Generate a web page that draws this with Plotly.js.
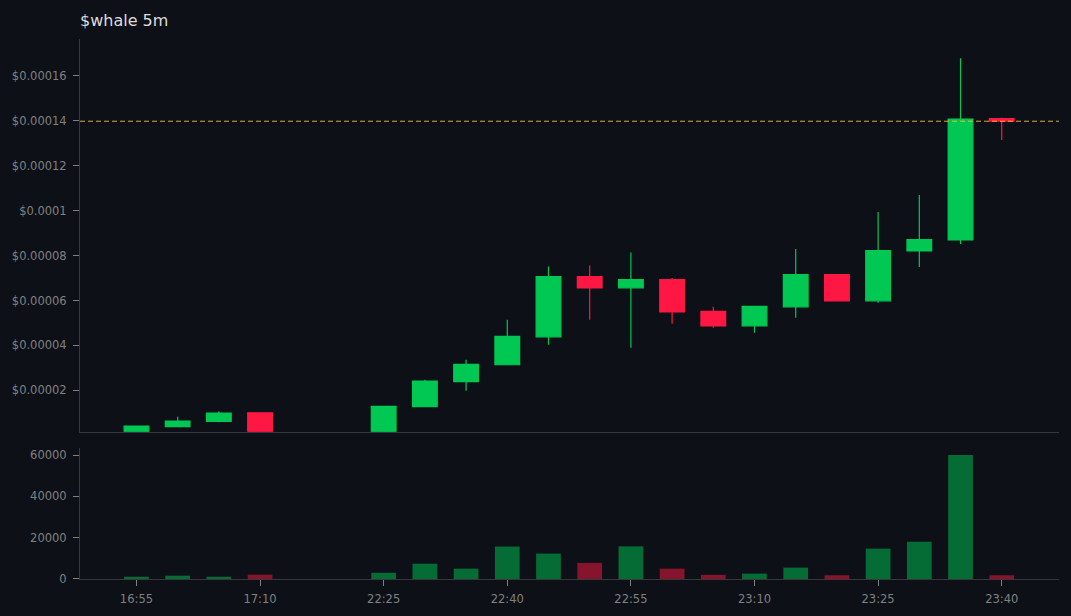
<!DOCTYPE html>
<html>
<head>
<meta charset="utf-8">
<script src="https://cdn.plot.ly/plotly-3.0.1.min.js"></script>
<style>html,body{margin:0;padding:0;background:#0d1117}
.boxes path{stroke-linejoin:miter !important}</style>
</head>
<body>
<div id="chart" style="width:1071px;height:616px"></div>
<script>
const allSlots = ["16:55","17:00","17:05","17:10","17:15","17:20","22:25","22:30","22:35","22:40","22:45","22:50","22:55","23:00","23:05","23:10","23:15","23:20","23:25","23:30","23:35","23:40"];
const times = ["16:55","17:00","17:05","17:10","22:25","22:30","22:35","22:40","22:45","22:50","22:55","23:00","23:05","23:10","23:15","23:20","23:25","23:30","23:35","23:40"];
const opens  = [0.164e-5,0.387e-5,0.622e-5,1.0e-5,0.164e-5,1.275e-5,2.386e-5,3.142e-5,4.386e-5,7.06e-5,6.564e-5,6.93e-5,5.52e-5,4.875e-5,5.719e-5,7.15e-5,5.986e-5,8.208e-5,8.697e-5,14.1e-5];
const highs  = [0.41e-5,0.831e-5,1.067e-5,1.0e-5,1.29e-5,2.475e-5,3.364e-5,5.142e-5,7.511e-5,7.555e-5,8.133e-5,7.0e-5,5.719e-5,5.764e-5,8.297e-5,7.15e-5,9.941e-5,10.697e-5,16.785e-5,14.13e-5];
const lows   = [0.164e-5,0.387e-5,0.578e-5,0.164e-5,0.164e-5,1.275e-5,1.986e-5,3.142e-5,4.031e-5,5.142e-5,3.897e-5,4.964e-5,4.786e-5,4.564e-5,5.231e-5,5.986e-5,5.897e-5,7.497e-5,8.519e-5,13.141e-5];
const closes = [0.41e-5,0.63e-5,0.99e-5,0.164e-5,1.29e-5,2.41e-5,3.16e-5,4.41e-5,7.06e-5,6.564e-5,6.93e-5,5.497e-5,4.875e-5,5.74e-5,7.15e-5,5.986e-5,8.22e-5,8.71e-5,14.08e-5,13.98e-5];
const volumes = [1100,1600,1100,2100,3000,7400,5000,15700,12300,7800,15800,5000,2000,2600,5500,1800,14700,18000,60000,1800];
const xTickLabels = ["16:55","17:10","22:25","22:40","22:55","23:10","23:25","23:40"];
const lastPrice = closes[closes.length - 1];

const UP = "#00c853", DOWN = "#ff1744";
const LINE = "#383838", TICK = "#808080";
const xRange = [-1.37, 22.39];

const volColors = closes.map((c, i) => c >= opens[i] ? UP : DOWN);

const candle = {
  type: "candlestick", x: times, open: opens, high: highs, low: lows, close: closes,
  xaxis: "x2", yaxis: "y",
  increasing: {line: {color: UP, width: 1.2}, fillcolor: UP},
  decreasing: {line: {color: DOWN, width: 1.2}, fillcolor: DOWN},
  whiskerwidth: 0, showlegend: false
};
const vol = {
  type: "bar", x: times, y: volumes, xaxis: "x", yaxis: "y2", width: 0.6,
  marker: {color: volColors, opacity: 0.5, line: {width: 0}}, showlegend: false
};

const xCommon = {
  type: "category", categoryorder: "array", categoryarray: allSlots,
  range: xRange, autorange: false, showgrid: false, zeroline: false,
  showline: true, linecolor: LINE, linewidth: 1
};

const layout = {
  width: 1071, height: 616,
  paper_bgcolor: "#0d1117", plot_bgcolor: "#0d1117",
  margin: {l: 79.5, r: 12, t: 39, b: 36.5, pad: 0},
  font: {family: "DejaVu Sans", size: 11, color: TICK},
  title: {text: "$whale 5m", x: 0, xref: "paper", xanchor: "left", y: 1, yref: "container", yanchor: "top",
          pad: {t: 15}, font: {family: "DejaVu Sans", size: 16, color: "#dcdcdc"}},
  bargap: 0.4, boxgap: 0.4, boxgroupgap: 0, boxmode: "overlay", hovermode: false,
  xaxis: Object.assign({}, xCommon, {
    anchor: "y2", tickmode: "array", tickvals: xTickLabels, ticktext: xTickLabels,
    ticks: "outside", ticklen: 6, tickcolor: TICK, tickwidth: 1, ticklabelstandoff: 3,
    tickfont: {size: 11.5, color: TICK}, rangeslider: {visible: false}
  }),
  xaxis2: Object.assign({}, xCommon, {
    anchor: "y", matches: "x", showticklabels: false, ticks: "", rangeslider: {visible: false}
  }),
  yaxis: {
    domain: [0.2729, 1], range: [0.164e-5, 17.64e-5], autorange: false,
    anchor: "x2", tick0: 0, dtick: 2e-5, tickprefix: "$", tickformat: ".5~f",
    showgrid: false, zeroline: false, showline: true, linecolor: LINE, linewidth: 1,
    ticks: "outside", ticklen: 6, tickcolor: TICK, tickwidth: 1, ticklabelstandoff: 4, tickfont: {size: 11.5, color: TICK}
  },
  yaxis2: {
    domain: [0, 0.2433], range: [0, 63600], autorange: false,
    anchor: "x", tick0: 0, dtick: 20000, tickformat: "d",
    showgrid: false, zeroline: false, showline: true, linecolor: LINE, linewidth: 1,
    ticks: "outside", ticklen: 6, tickcolor: TICK, tickwidth: 1, ticklabelstandoff: 4, tickfont: {size: 11.5, color: TICK}
  },
  shapes: [{
    type: "line", xref: "x2 domain", x0: 0, x1: 1, yref: "y", y0: lastPrice, y1: lastPrice,
    line: {color: "#f5c542", width: 1, dash: "5px,3px"}, opacity: 0.85, layer: "above"
  }]
};

Plotly.newPlot("chart", [candle, vol], layout, {displayModeBar: false, staticPlot: true});
</script>
</body>
</html>
